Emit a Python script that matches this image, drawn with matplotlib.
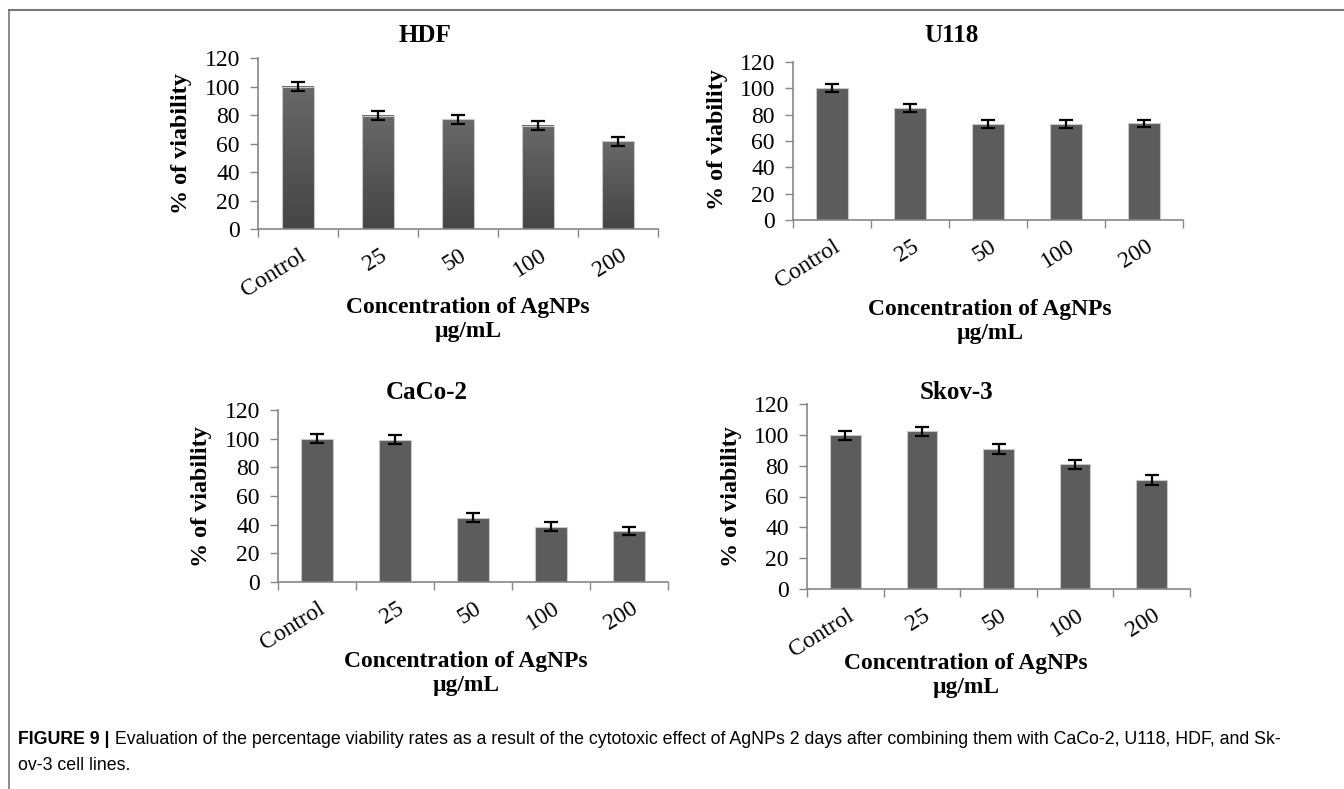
import numpy as np
import matplotlib
matplotlib.use('Agg')
import matplotlib.pyplot as plt
from matplotlib import font_manager
from matplotlib.colors import LinearSegmentedColormap

W, H = 1344, 789

categories = ['Control', '25', '50', '100', '200']

hdf_vals = [100, 79.5, 77, 72.5, 61.5]
hdf_err = [3, 3, 3, 3, 3]
u118_vals = [100, 85, 73, 73, 73.3]
u118_err = [3, 3, 3, 3, 3]
caco_vals = [100, 99.3, 45, 38.7, 35.7]
caco_err = [3, 3, 3, 3, 3]
skov_vals = [99.8, 102.3, 90.8, 80.8, 70.7]
skov_err = [3, 3, 3, 3, 3]

yticks = [0, 20, 40, 60, 80, 100, 120]

caption_bold = 'FIGURE 9 |'
caption_1 = (' Evaluation of the percentage viability rates as a result of the cytotoxic effect '
             'of AgNPs 2 days after combining them with CaCo-2, U118, HDF, and Sk-')
caption_2 = 'ov-3 cell lines.'

installed = {f.name for f in font_manager.fontManager.ttflist}
serif = 'Liberation Serif'
cap_font = 'Liberation Sans Narrow' if 'Liberation Sans Narrow' in installed else 'Liberation Sans'

fig = plt.figure(figsize=(W / 100, H / 100), dpi=100)


def fx(x):
    return x / W


def fy(y):
    return 1 - y / H


def panel(vals, err, title, box, title_xy, ylab_xy, xlab_xy, gradient=False):
    left, top, right, bottom = box
    ax = fig.add_axes([fx(left), fy(bottom), fx(right - left), (bottom - top) / H])
    x = np.arange(len(categories))
    bars = ax.bar(x, vals, width=0.4, color='#5c5c5c', edgecolor='#c8c8c8', linewidth=0.8, zorder=2)
    if gradient:
        # the HDF panel has shaded bars
        cmap = LinearSegmentedColormap.from_list('g', ['#454545', '#686868'])
        grad = np.linspace(0, 1, 100).reshape(-1, 1)
        for b in bars:
            b.set_facecolor('none')
            ax.imshow(grad, extent=[b.get_x(), b.get_x() + b.get_width(), 0, b.get_height()],
                      origin='lower', cmap=cmap, aspect='auto', zorder=1)
    ax.errorbar(x, vals, yerr=err, fmt='none', ecolor='black', elinewidth=1.6,
                capsize=5, capthick=1.6, zorder=3)
    ax.set_xlim(-0.5, len(categories) - 0.5)
    ax.set_ylim(0, 120)
    ax.set_yticks(yticks)
    ax.set_yticklabels([str(t) for t in yticks], fontfamily=serif, fontsize=17)
    ax.set_xticks(np.arange(-0.5, len(categories), 1.0))
    ax.set_xticklabels([])
    ax.tick_params(axis='y', length=6, width=1, color='#868686', pad=7)
    ax.tick_params(axis='x', length=6, width=1, color='#868686')
    for s in ['top', 'right']:
        ax.spines[s].set_visible(False)
    for s in ['left', 'bottom']:
        ax.spines[s].set_color('#868686')
        ax.spines[s].set_linewidth(1.2)
    # rotated category labels
    for i, c in enumerate(categories):
        ax.annotate(c, xy=(i, 0), xycoords='data', xytext=(1, -16), textcoords='offset pixels',
                    rotation=32, ha='right', va='top', rotation_mode='anchor',
                    fontfamily=serif, fontsize=17, annotation_clip=False)
    fig.text(fx(title_xy[0]), fy(title_xy[1]), title, ha='center', va='center',
             fontfamily=serif, fontweight='bold', fontsize=18)
    fig.text(fx(ylab_xy[0]), fy(ylab_xy[1]), '% of viability', ha='center', va='center',
             rotation=90, fontfamily=serif, fontweight='bold', fontsize=17.4)
    fig.text(fx(xlab_xy[0]), fy(xlab_xy[1]), 'Concentration of AgNPs', ha='center', va='center',
             fontfamily=serif, fontweight='bold', fontsize=16.9)
    fig.text(fx(xlab_xy[0]), fy(xlab_xy[1] + 24), 'µg/mL', ha='center', va='center',
             fontfamily=serif, fontweight='bold', fontsize=16.9)
    return ax


panel(hdf_vals, hdf_err, 'HDF', (258, 58, 658, 229), (425, 36), (182, 144), (468, 307), gradient=True)
panel(u118_vals, u118_err, 'U118', (793, 62, 1183, 220), (952, 36), (718, 140), (990, 310))
panel(caco_vals, caco_err, 'CaCo-2', (278, 410, 668, 582), (427, 393), (202, 497), (466, 661))
panel(skov_vals, skov_err, 'Skov-3', (807, 404, 1190, 589), (956, 393), (732, 497), (966, 663))

# frame lines
fig.add_artist(plt.Line2D([fx(9), 1], [fy(10), fy(10)], color='#777777', lw=1.5))
fig.add_artist(plt.Line2D([fx(9), fx(9)], [fy(10), 0], color='#777777', lw=1.2))

# caption
t1 = fig.text(fx(18), fy(740), caption_bold, ha='left', va='center',
              fontfamily=cap_font, fontweight='bold', fontsize=12.8)
fig.canvas.draw()
ext = t1.get_window_extent()
fig.text(ext.x1 / W, fy(740), caption_1, ha='left', va='center',
         fontfamily=cap_font, fontsize=12.8)
fig.text(fx(18), fy(765), caption_2, ha='left', va='center',
         fontfamily=cap_font, fontsize=12.8)

fig.savefig('out.png', dpi=100)
